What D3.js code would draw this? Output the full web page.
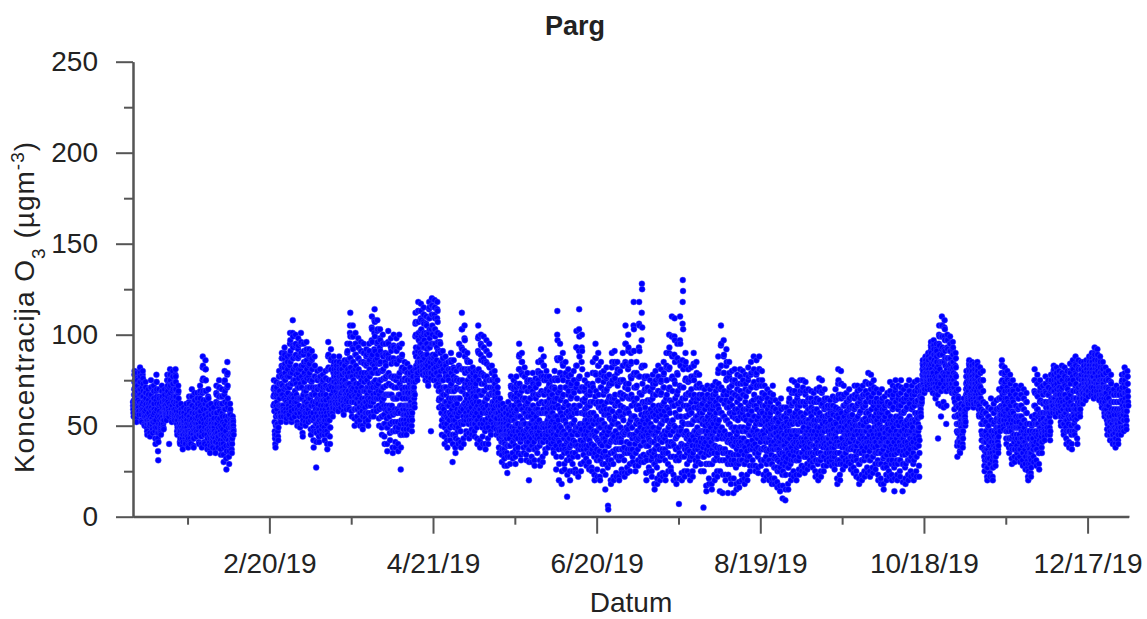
<!DOCTYPE html>
<html>
<head>
<meta charset="utf-8">
<script src="https://cdn.jsdelivr.net/npm/d3@7"></script>
<style>
  html, body { margin: 0; padding: 0; background: #ffffff; }
  svg { display: block; }
  text { font-family: "Liberation Sans", Arial, sans-serif; fill: #222; }
</style>
</head>
<body>
<svg id="chart" width="1147" height="619"></svg>
<script>
// ---- data (hourly O3 at Parg, 2019; values in µg/m3) ----
const chartTitle = "Parg";
const xTitle = "Datum";
const sampleHours = [0,2,4,6,8,10,12,14,16,18,20,22];
const extraHours = [1,9,11,13,17,19];
const majorTickDates = ["2019-02-20","2019-04-21","2019-06-20","2019-08-19","2019-10-18","2019-12-17"];
const minorTickDates = ["2019-01-21","2019-03-22","2019-05-21","2019-07-20","2019-09-18","2019-11-17"];
const yMajorTicks = [0,50,100,150,200,250];
const yMinorTicks = [25,75,125,175,225];

// values at sampleHours, one row per day
const jan = [
[63,59,57,55,61,67,74,80,78,71,66,64],[62,59,54,52,57,65,71,79,75,69,64,61],[60,57,58,56,63,70,78,82,79,74,67,62],
[61,56,53,52,59,66,75,80,76,69,63,59],[57,55,51,50,55,61,68,74,71,65,59,55],[53,49,47,45,51,56,63,70,67,62,57,54],
[52,50,46,44,51,59,66,75,71,63,58,54],[54,50,48,46,52,59,65,72,69,62,57,53],[51,47,43,40,49,58,69,78,74,66,59,55],
[49,43,36,31,41,51,61,70,65,58,53,49],[50,47,46,45,51,57,65,72,69,63,57,53],[55,51,49,48,53,60,65,70,67,61,57,55],
[57,55,54,53,59,64,71,78,75,69,63,59],[60,56,55,40,57,67,74,81,78,72,65,61],[59,56,53,52,57,65,73,80,77,70,63,59],
[57,55,54,53,59,66,74,81,77,70,63,58],[55,51,47,45,49,56,63,72,69,61,55,51],[49,46,41,40,43,50,55,62,59,54,51,49],
[47,43,39,37,41,48,53,60,57,52,49,47],[46,43,41,40,45,49,55,62,59,53,49,47],[45,42,39,38,43,51,59,66,62,55,50,47],
[46,43,41,40,46,53,61,70,66,57,51,49],[47,43,39,38,43,52,59,68,64,57,51,49],[49,46,45,44,47,54,61,68,65,59,55,51],
[49,45,41,40,45,53,63,72,69,61,55,52],[49,44,40,38,47,60,75,88,83,69,59,53],[51,45,41,40,49,62,75,86,81,69,59,54],
[51,45,39,37,43,52,61,70,65,57,53,49],[47,41,37,35,39,46,53,62,59,53,49,47],[45,42,39,38,41,47,53,60,57,51,47,45],
[45,41,37,35,41,51,63,72,67,57,51,47]
];
const feb = [
[46,43,40,38,44,53,66,75,71,62,54,50],[47,42,37,34,40,49,62,70,66,57,52,48],[45,40,34,30,38,51,67,80,75,63,55,50],
[47,39,32,26,36,53,71,85,79,65,55,49],[45,39,33,29,36,45,54,62,59,53,49,46],[44,41,37,35,40,46,51,55,53,50,47,45],
null,null,null,null,null,null,null,null,null,null,null,null,null,null,
[null,null,null,null,null,null,61,70,75,67,58,52],[47,43,40,38,45,55,66,74,71,63,56,51],[51,47,44,42,49,61,73,80,77,69,61,56],
[57,53,52,55,61,73,83,90,87,77,67,61],[61,57,55,58,65,76,87,93,89,79,71,64],[59,55,52,54,63,71,82,88,85,77,68,62],
[61,57,55,56,65,77,89,101,97,85,73,66],[63,58,52,54,67,79,94,108,99,87,75,67]
];
const mar = [
[65,59,56,55,63,75,88,100,95,83,73,67],[63,57,52,50,59,71,87,98,94,81,71,65],[61,55,50,49,57,73,89,101,96,83,71,65],
[59,51,46,44,53,67,83,95,91,79,69,63],[61,55,52,50,57,69,85,96,92,81,71,66],[62,57,54,52,59,71,83,92,89,79,71,65],
[61,53,48,45,55,67,81,91,87,75,67,63],[57,49,42,38,47,61,77,88,83,71,63,59],[55,47,27,41,46,57,71,80,75,65,59,55],
[55,49,44,41,47,59,71,81,77,67,61,57],[57,51,48,45,50,59,69,78,75,67,61,57],[55,49,45,42,47,59,71,80,76,67,61,57],
[55,47,40,37,45,61,81,96,89,75,65,59],[57,49,44,40,49,63,81,92,87,75,67,61],[63,59,57,55,60,69,79,88,85,77,71,65],
[65,61,60,59,62,69,77,85,83,75,71,67],[65,61,59,58,62,71,79,88,85,77,71,67],[67,63,62,60,64,71,77,84,81,75,71,69],
[65,61,58,56,61,69,79,86,83,75,69,67],[67,63,60,59,64,73,85,95,91,81,73,69],[69,63,60,59,67,79,95,105,112,87,77,71],
[69,63,58,55,63,77,93,105,99,85,75,71],[67,59,54,50,59,73,89,101,95,83,73,69],[65,59,55,52,59,71,87,98,93,81,73,67],
[63,57,53,50,57,69,85,96,91,79,71,65],[61,55,50,48,55,69,85,95,90,79,69,65],[63,57,54,52,57,69,83,92,89,79,71,67],
[65,57,53,50,57,71,85,95,91,81,73,69],[69,61,57,55,63,79,97,110,103,89,79,73],[71,63,58,55,65,83,101,114,107,91,81,75],
[71,65,60,58,65,79,95,108,103,89,79,73]
];
const apr = [
[69,61,54,50,59,75,93,103,97,85,75,69],[65,55,49,45,55,71,89,100,95,81,71,65],[61,51,44,40,51,67,85,95,89,77,67,61],
[59,49,40,36,49,67,89,102,95,79,67,61],[59,51,46,42,51,67,87,98,91,77,67,61],[57,47,38,35,47,65,87,100,93,77,65,59],
[57,47,41,38,49,65,85,98,91,77,65,59],[57,47,40,36,49,67,87,100,93,79,67,61],[57,45,26,38,45,61,81,95,89,75,65,59],
[59,53,48,45,51,61,75,85,81,71,65,61],[59,53,48,45,51,61,75,84,79,71,65,61],[61,55,50,48,53,61,73,82,79,71,65,63],
[61,55,50,47,53,61,71,80,77,71,67,65],[71,65,62,60,67,81,99,112,107,93,83,77],[83,79,77,75,79,91,107,118,113,101,93,87],
[87,83,82,80,85,95,109,117,113,103,95,89],[85,81,80,78,83,93,107,115,111,101,93,87],[83,79,77,75,79,89,101,110,105,95,89,85],
[83,77,74,72,79,93,109,118,115,103,93,87],[85,79,76,47,79,95,111,120,116,105,95,89],[87,81,78,75,81,95,111,119,115,103,95,89],
[85,79,75,72,79,93,109,118,113,101,91,83],[77,69,64,60,65,77,91,100,95,85,75,69],[65,57,50,45,53,67,83,91,87,75,67,61],
[59,51,44,40,49,63,79,88,83,71,63,57],[55,47,42,38,47,61,77,85,81,69,61,57],[57,49,45,42,49,63,81,90,85,73,65,59],
[55,45,30,40,45,61,77,86,81,69,61,57],[53,45,38,35,43,57,71,80,75,65,59,55],[55,47,42,40,49,65,83,95,89,75,65,59]
];
const may = [
[58,47,41,38,51,69,93,112,103,81,69,61],[59,51,43,40,53,71,91,105,97,79,67,63],[61,53,47,45,55,65,81,90,85,75,67,62],
[59,51,46,43,53,63,77,85,81,73,65,61],[60,53,48,45,51,63,73,82,79,71,66,62],[58,51,47,44,51,59,71,80,77,69,63,60],
[57,49,43,40,53,69,91,105,99,81,69,63],[59,51,42,38,51,67,89,100,94,79,67,61],[57,49,44,40,51,69,87,99,93,77,69,63],
[59,47,40,37,49,65,85,97,91,77,65,61],[57,51,43,40,49,67,83,95,89,75,67,59],[59,52,47,45,53,61,75,83,79,71,63,60],
[61,55,51,49,55,63,71,80,77,69,65,61],[57,52,48,45,51,57,67,75,71,65,61,57],[51,45,38,35,43,51,59,65,61,55,51,49],
[47,41,34,30,37,45,55,62,59,53,49,45],[45,37,32,28,35,45,53,60,57,51,47,45],[43,35,28,24,33,45,55,63,59,53,47,45],
[47,39,33,29,39,53,67,77,71,61,55,49],[49,41,35,32,41,53,65,75,71,61,53,49],[47,39,33,29,37,51,65,77,73,63,55,51],
[51,43,38,35,47,63,81,95,89,73,61,55],[49,41,34,31,43,59,79,90,85,71,59,53],[51,43,38,35,45,57,71,82,77,65,57,51],
[47,39,34,31,41,55,69,79,75,63,55,49],[45,37,20,30,37,51,65,75,71,59,51,47],[47,39,33,30,39,53,69,79,73,61,53,49],
[45,37,31,28,37,51,67,76,71,59,51,47],[49,43,38,35,45,59,75,85,79,67,57,53],[47,39,31,28,41,57,79,92,85,69,57,51],
[49,41,33,30,41,59,77,88,83,67,57,51]
];
const jun = [
[49,43,37,35,45,57,69,80,77,63,57,51],[53,45,41,38,47,55,67,77,73,65,59,55],[51,47,43,40,47,57,67,75,71,63,57,53],
[48,41,37,35,43,55,71,80,75,65,55,51],[49,39,26,33,45,65,87,113,97,75,61,53],[47,37,20,29,41,59,79,95,87,71,57,49],
[45,33,18,25,37,55,77,90,83,67,53,47],[43,35,29,26,37,53,71,85,79,63,51,45],[41,31,11,23,35,49,67,81,77,61,49,43],
[43,33,25,20,31,47,65,78,73,59,51,45],[45,35,29,25,33,51,69,80,75,61,53,47],[47,35,26,24,39,59,83,102,93,73,57,49],
[45,33,24,22,37,61,91,114,99,77,61,51],[47,37,29,25,39,57,85,100,91,71,57,51],[45,37,34,30,39,51,63,75,71,59,53,49],
[47,39,32,28,37,53,67,78,73,61,51,47],[43,35,30,26,35,49,61,72,69,57,49,45],[45,35,27,25,37,53,73,85,79,63,51,47],
[45,33,23,20,35,53,79,95,87,69,55,47],[43,31,26,22,33,51,75,90,83,67,53,49],[41,31,22,20,31,49,71,85,79,63,53,45],
[45,33,29,25,35,51,67,80,77,61,51,47],[43,29,15,23,33,49,69,82,77,63,49,45],[39,27,6,4,31,47,65,78,73,59,49,41],
[41,29,20,18,31,53,73,90,85,65,51,45],[43,29,22,20,35,53,77,91,85,67,55,47],[41,33,24,22,33,51,73,85,81,63,51,45],
[43,31,22,20,33,49,67,80,75,61,49,43],[41,33,26,24,37,55,75,90,83,67,53,47],[45,31,24,22,35,57,85,105,95,73,59,49]
];
const jul = [
[47,35,27,24,37,59,81,100,93,73,57,51],[45,35,29,25,37,53,77,90,85,67,55,49],[49,37,33,30,45,65,91,118,103,79,63,55],
[45,35,28,25,35,51,71,85,79,65,53,47],[47,37,31,28,43,61,93,118,105,77,59,51],[49,39,33,30,45,67,97,128,125,83,63,53],
[47,41,34,30,41,55,69,83,77,63,57,51],[45,33,24,20,31,47,63,77,71,57,49,45],[43,35,27,25,35,49,63,75,69,59,51,47],
[41,31,25,22,33,49,65,78,73,61,49,45],[41,29,18,15,29,45,67,80,75,59,47,43],[39,27,21,18,31,47,69,83,77,61,49,43],
[43,31,23,20,33,51,67,81,75,61,51,45],[41,33,24,22,35,53,71,85,79,63,53,47],[43,31,23,20,35,55,75,90,83,67,53,47],
[47,35,29,25,39,59,81,100,93,71,57,51],[45,33,27,25,41,63,89,110,99,77,61,53],[47,33,23,20,39,61,89,109,97,73,57,49],
[43,31,21,18,33,55,79,95,87,69,55,47],[45,31,7,21,35,59,85,110,95,71,55,49],[47,33,24,20,39,65,106,130,124,81,61,51],
[45,33,25,22,37,55,75,90,85,67,55,47],[43,35,29,25,37,51,67,81,75,61,51,45],[41,31,23,20,33,51,67,82,77,63,51,45],
[45,33,25,22,35,53,77,90,83,67,53,47],[47,37,31,28,39,55,71,85,79,65,55,49],[45,37,33,30,39,53,65,78,73,61,53,47],
[43,35,29,25,35,47,61,71,67,57,51,47],[43,33,5,25,33,47,59,70,65,53,47,43],[41,29,17,14,29,45,61,72,67,55,47,43],
[39,29,21,18,29,43,57,70,65,53,45,41]
];
const aug = [
[41,29,18,15,29,45,59,72,67,55,47,43],[39,31,23,20,31,47,61,74,69,57,49,43],[43,33,25,22,35,51,71,88,81,65,53,47],
[45,31,14,25,37,57,83,105,95,71,57,49],[43,31,13,23,35,55,79,97,89,69,55,47],[43,31,23,20,35,53,75,92,85,67,53,45],
[41,29,13,23,33,51,69,85,79,63,51,45],[41,29,21,18,31,49,65,80,75,61,49,43],[39,29,13,21,31,47,67,81,75,59,49,43],
[41,27,18,15,29,45,63,78,73,59,47,41],[39,29,19,16,31,49,65,81,77,61,49,43],[41,31,23,20,31,47,67,80,75,59,49,43],
[39,29,21,18,29,47,63,78,73,59,47,41],[41,31,23,20,33,49,69,82,77,61,51,45],[45,33,28,25,37,53,71,85,79,63,53,47],
[47,37,31,28,39,55,73,88,81,67,55,49],[45,35,28,25,37,51,71,86,79,65,53,47],[43,33,27,24,35,55,75,88,81,63,51,45],
[45,37,31,28,37,51,65,80,75,61,53,47],[43,31,23,20,31,45,61,72,67,55,49,43],[41,33,25,22,29,43,57,70,65,53,47,43],
[41,31,23,20,31,43,55,68,63,51,45,41],[39,29,21,18,29,45,59,72,67,53,45,41],[37,27,21,18,27,39,53,64,59,49,43,39],
[37,27,19,16,25,37,51,62,57,47,41,37],[35,25,17,14,27,41,55,65,59,49,43,39],[35,23,10,17,25,39,51,60,55,45,39,35],
[33,23,9,15,23,37,49,60,57,47,41,37],[37,27,18,15,27,43,57,70,65,51,43,39],[39,29,23,20,31,45,61,75,69,55,47,41],
[41,31,25,22,33,47,63,74,69,57,47,43]
];
const sep = [
[41,31,23,20,31,45,59,72,67,55,47,41],[39,31,26,23,33,47,61,75,69,57,47,43],[43,35,28,25,35,47,63,75,71,55,49,43],
[41,33,27,24,33,45,61,74,69,57,47,45],[43,33,29,26,35,47,59,70,65,53,49,45],[41,35,31,28,35,45,57,69,65,55,47,43],
[43,35,30,27,33,45,59,68,63,53,47,43],[39,31,25,22,31,43,57,70,65,53,45,41],[41,29,23,20,31,47,63,76,71,57,49,43],
[39,31,25,22,33,45,61,75,69,55,47,41],[43,33,28,25,33,47,59,70,65,55,49,43],[41,35,31,28,35,43,55,65,61,51,47,43],
[43,37,32,30,35,45,55,64,61,53,47,45],[41,35,31,28,33,43,57,66,61,51,45,43],[43,33,29,26,35,45,59,70,65,55,47,43],
[41,29,21,18,31,47,65,81,75,59,49,41],[39,31,23,20,29,49,67,80,73,57,47,43],[43,33,29,26,33,47,61,72,67,55,49,45],
[41,35,31,28,35,45,57,68,63,53,47,43],[45,37,32,30,37,47,59,70,65,55,49,45],[41,33,29,26,33,43,55,66,61,51,45,43],
[43,31,27,24,33,45,59,72,67,53,47,41],[39,33,25,22,31,47,61,72,69,55,45,41],[41,29,21,18,29,43,57,70,65,51,43,39],
[39,31,23,20,31,45,61,72,67,53,47,43],[41,31,25,22,33,47,61,74,69,57,47,41],[43,33,27,24,33,49,67,79,73,57,49,45],
[41,31,25,22,31,47,63,78,73,59,47,41],[43,33,27,24,33,45,61,75,71,55,49,43],[41,35,29,26,35,47,57,70,65,53,47,45]
];
const oct = [
[39,31,23,20,29,43,55,68,63,51,45,41],[41,29,21,18,29,41,57,70,65,53,43,39],[37,27,18,15,27,39,53,66,61,49,43,39],
[39,29,23,20,27,41,57,68,63,51,45,41],[41,31,25,22,31,45,61,74,69,55,47,43],[39,29,23,20,31,43,59,72,67,53,45,41],
[41,27,14,21,29,45,63,75,71,55,47,43],[39,31,23,20,29,45,59,72,67,55,45,41],[41,31,25,22,31,47,61,75,71,57,47,43],
[39,29,14,19,29,43,57,70,65,51,45,39],[41,27,21,18,29,45,59,72,67,53,47,41],[39,31,23,20,31,45,63,75,69,55,47,43],
[43,31,25,22,33,47,59,72,67,53,49,43],[41,29,23,20,31,45,61,74,69,57,47,45],[43,33,25,22,33,47,63,75,71,57,51,47],
[49,39,28,22,35,49,61,72,69,61,57,55],[64,62,63,65,69,75,81,86,83,77,73,71],[71,69,68,70,75,79,85,88,86,81,77,75],
[75,73,70,72,77,81,87,90,88,83,79,77],[77,73,71,70,75,83,91,96,93,87,81,79],[79,75,70,68,73,85,93,97,94,89,83,77],
[75,71,67,65,71,81,89,95,91,85,79,75],[73,67,43,62,71,83,95,105,99,89,81,77],[77,69,61,55,69,85,99,110,105,93,85,79],
[79,71,63,60,71,85,99,108,103,91,83,79],[77,69,51,61,69,81,93,100,97,87,79,75],[77,73,71,70,75,83,91,99,95,87,81,77],
[75,71,69,68,73,81,89,96,93,85,79,75],[71,65,59,55,63,73,83,90,87,77,69,61],[55,47,39,33,41,51,61,70,65,55,47,41],
[43,39,36,35,41,47,53,62,59,53,49,47]
];
const nov = [
[47,43,40,38,43,51,57,65,61,55,53,51],[57,53,50,52,59,67,73,80,77,71,65,63],[65,63,60,62,69,75,81,86,83,77,71,67],
[67,65,62,64,71,77,81,85,83,77,73,69],[65,61,60,62,67,73,79,84,81,75,71,67],[67,63,62,63,69,75,81,85,83,77,71,67],
[65,59,56,55,61,69,75,82,79,71,65,59],[55,47,42,38,45,57,69,80,75,63,53,45],[41,33,28,25,31,41,51,62,57,47,41,37],
[35,27,22,20,27,37,49,60,55,45,39,35],[35,29,24,22,29,41,53,65,59,47,41,37],[35,27,22,20,27,39,51,62,57,47,41,37],
[39,33,30,28,33,43,53,64,59,49,43,41],[43,39,37,35,39,49,59,70,65,55,49,47],[57,55,53,56,61,69,79,86,83,75,67,61],
[59,53,50,48,53,63,73,82,79,69,61,57],[55,47,43,40,47,59,71,80,75,63,55,51],[51,43,38,35,43,55,69,78,73,61,53,49],
[47,39,32,29,37,51,65,75,69,57,49,45],[45,37,33,30,37,49,61,72,67,55,49,45],[45,39,35,32,37,49,59,70,65,55,49,45],
[45,37,33,30,37,49,61,72,67,55,47,43],[43,35,31,28,35,47,59,70,65,53,45,41],[41,33,29,26,33,45,57,68,63,51,43,39],
[35,27,22,20,25,33,43,51,47,39,35,33],[35,29,24,22,27,35,45,55,51,43,39,37],[43,37,33,30,39,53,69,81,75,61,51,47],
[45,37,31,28,37,51,67,78,73,59,51,47],[45,35,29,26,35,49,63,75,71,57,49,45],[47,41,38,35,41,51,63,72,67,57,51,47]
];
const dec = [
[51,45,44,42,47,57,69,77,73,63,57,53],[53,49,47,45,49,57,67,75,71,63,57,55],[55,49,45,42,47,57,69,78,75,65,61,59],
[63,59,58,57,61,69,77,83,81,75,69,65],[65,59,57,55,59,67,75,82,79,73,67,63],[63,59,58,57,61,67,75,80,77,71,67,63],
[61,55,52,50,55,65,75,83,79,71,63,59],[59,51,47,45,51,61,73,82,77,67,61,57],[57,49,43,40,47,59,71,80,75,65,59,55],
[55,47,41,38,47,61,75,84,79,67,59,55],[55,45,40,37,47,61,77,86,81,69,61,57],[59,51,47,45,53,65,79,88,83,73,65,61],
[59,49,43,40,49,63,77,86,81,71,65,61],[65,59,57,55,59,67,77,85,81,75,69,67],[69,65,63,62,65,71,79,85,83,77,73,71],
[71,67,65,64,67,73,81,86,83,79,75,73],[73,69,67,66,69,75,83,88,85,81,77,75],[75,71,68,67,71,77,85,90,87,83,79,77],
[77,71,67,65,69,79,87,93,89,83,79,75],[75,71,68,66,69,77,85,92,89,83,77,73],[73,69,66,64,67,75,83,88,85,79,75,71],
[69,65,62,60,63,71,79,85,81,75,71,67],[65,59,57,55,59,67,75,82,79,71,65,61],[59,53,48,45,51,61,71,80,75,65,57,53],
[55,49,45,42,47,57,69,78,73,63,55,51],[51,45,42,40,45,53,63,70,67,59,53,49],[49,43,40,38,43,53,63,72,67,59,53,49],
[51,45,42,40,45,53,63,70,67,59,53,51],[55,49,47,45,49,59,69,78,75,67,61,57],[59,53,49,47,53,63,73,82,79,71,65,61],
[61,55,50,48,53,63,73,80,77,69,63,61]
];

// values at extraHours, one row per day
const janX = [
[61,64,70,78,75,68],[60,61,68,76,72,66],[58,67,74,80,77,70],[58,62,71,78,73,66],[56,58,64,71,68,62],[51,53,60,67,64,60],
[51,55,62,71,67,60],[52,56,62,69,65,59],[49,53,64,74,70,62],[46,46,56,66,62,55],[48,54,61,69,66,60],[53,57,63,68,64,59],
[56,62,68,75,72,66],[58,62,71,78,75,68],[57,61,69,77,73,66],[56,62,70,78,74,66],[53,53,60,68,65,58],[47,47,53,59,57,52],
[45,45,51,57,55,50],[44,47,52,59,56,51],[44,47,55,63,58,53],[45,50,57,66,61,54],[45,48,56,64,60,54],[48,51,58,65,62,57],
[47,49,58,68,65,58],[46,54,68,82,76,64],[48,56,69,81,75,64],[48,48,57,66,61,55],[44,43,50,58,56,51],[43,44,50,57,54,49],
[43,46,57,68,62,54]
];
const febX = [
[44,49,60,71,66,58],[45,45,56,66,62,55],[42,44,59,74,69,59],[43,44,62,78,72,60],[42,40,50,58,56,51],[42,43,49,53,52,48],
null,null,null,null,null,null,null,null,null,null,null,null,null,null,
[null,null,null,66,71,62],[45,50,61,70,67,59],[49,55,67,77,73,65],[55,67,78,87,82,72],[59,70,82,90,84,75],[57,67,77,85,81,72],
[59,71,83,95,91,79],[60,73,87,101,93,81]
];
const marX = [
[62,69,82,94,89,78],[60,65,79,92,88,76],[58,65,81,95,90,77],[55,60,75,89,85,74],[58,63,77,91,86,76],[60,65,77,88,84,75],
[57,61,74,86,81,71],[53,54,69,83,77,67],[51,51,64,76,70,62],[52,53,65,76,72,64],[54,55,64,74,71,64],[52,53,65,76,72,64],
[51,53,71,88,82,70],[53,56,72,86,81,71],[61,65,74,83,81,74],[63,66,73,81,79,73],[63,66,75,83,81,74],[65,68,74,81,78,73],
[63,65,74,83,79,72],[65,68,79,90,86,77],[66,73,87,101,99,82],[66,70,85,99,92,80],[63,66,81,95,89,78],[62,65,79,93,87,77],
[60,63,77,91,85,75],[58,62,77,90,84,74],[60,63,76,88,84,75],[61,64,78,90,86,77],[65,71,88,104,96,84],[67,74,92,108,99,86],
[68,72,87,102,96,84]
];
const aprX = [
[65,67,84,98,91,80],[60,63,80,95,88,76],[56,59,76,90,83,72],[54,58,78,96,87,73],[55,59,77,93,84,72],[52,56,76,94,85,71],
[52,57,75,92,84,71],[52,58,77,94,86,73],[51,53,71,88,82,70],[56,56,68,80,76,68],[56,56,68,79,75,68],[58,57,67,78,75,68],
[58,57,66,76,74,69],[68,74,90,106,100,88],[81,85,99,113,107,97],[85,90,102,113,108,99],[83,88,100,111,106,97],[81,84,95,106,100,92],
[80,86,101,114,109,98],[82,87,103,116,111,100],[84,88,103,115,109,99],[82,86,101,114,107,96],[73,71,84,96,90,80],[61,60,75,87,81,71],
[55,56,71,84,77,67],[51,54,69,81,75,65],[53,56,72,86,79,69],[50,53,69,82,75,65],[49,50,64,76,70,62],[51,57,74,89,82,70]
];
const mayX = [
[52,60,81,103,92,75],[55,62,81,98,88,73],[57,60,73,86,80,71],[55,58,70,81,77,69],[56,57,68,78,75,68],[54,55,65,76,73,66],
[53,61,80,98,90,75],[55,59,78,95,86,73],[53,60,78,93,85,73],[53,57,75,91,84,71],[54,58,75,89,82,71],[55,57,68,79,75,67],
[58,59,67,76,73,67],[54,54,62,71,68,63],[48,47,55,62,58,53],[44,41,50,59,56,51],[41,40,49,57,54,49],[39,39,50,59,56,50],
[43,46,60,72,66,58],[45,47,59,70,66,57],[43,44,58,71,68,59],[47,55,72,88,81,67],[45,51,69,85,78,65],[47,51,64,77,71,61],
[43,48,62,74,69,59],[41,44,58,70,65,55],[43,46,61,74,67,57],[41,44,59,72,65,55],[46,52,67,80,73,62],[43,49,68,86,77,63],
[45,50,68,83,75,62]
];
const junX = [
[46,51,63,75,70,60],[49,51,61,72,69,62],[49,52,62,71,67,60],[45,49,63,76,70,60],[44,55,76,100,86,68],[42,50,69,87,79,64],
[39,46,66,84,75,60],[39,45,62,78,71,57],[36,42,58,74,69,55],[38,39,56,72,66,55],[40,42,60,75,68,57],[41,49,71,93,83,65],
[39,49,76,103,88,69],[42,48,71,93,81,64],[41,45,57,69,65,56],[43,45,60,73,67,56],[39,42,55,67,63,53],[40,45,63,79,71,57],
[39,44,66,87,78,62],[37,42,63,83,75,60],[36,40,60,78,71,58],[39,43,59,74,69,56],[36,41,59,76,70,56],[33,39,56,72,66,54],
[35,42,63,82,75,58],[36,44,65,84,76,61],[37,42,62,79,72,57],[37,41,58,74,68,55],[37,46,65,83,75,60],[38,46,71,95,84,66]
];
const julX = [
[41,48,70,91,83,65],[40,45,65,84,76,61],[43,55,78,105,91,71],[40,43,61,78,72,59],[42,52,77,106,91,68],[44,56,82,112,104,73],
[44,48,62,76,70,60],[39,39,55,70,64,53],[39,42,56,69,64,55],[36,41,57,71,67,55],[35,37,56,73,67,53],[33,39,58,76,69,55],
[37,42,59,74,68,56],[37,44,62,78,71,58],[37,45,65,82,75,60],[41,49,70,90,82,64],[39,52,76,99,88,69],[40,50,75,99,85,65],
[37,44,67,87,78,62],[38,47,72,97,83,63],[40,52,86,118,103,71],[39,46,65,83,76,61],[39,44,59,74,68,56],[36,42,59,75,70,57],
[39,44,65,84,75,60],[42,47,63,78,72,60],[41,46,59,71,67,57],[39,41,54,66,62,54],[38,40,53,64,59,50],[35,37,53,66,61,51],
[34,36,50,63,59,49]
];
const augX = [
[35,37,52,65,61,51],[35,39,54,67,63,53],[38,43,61,79,73,59],[38,47,70,94,83,64],[37,45,67,88,79,62],[37,44,64,83,76,60],
[35,42,60,77,71,57],[35,40,57,72,68,55],[34,39,57,74,67,54],[34,37,54,70,66,53],[34,40,57,73,69,55],[36,39,57,73,67,54],
[34,38,55,70,66,53],[36,41,59,75,69,56],[39,45,62,78,71,58],[42,47,64,80,74,61],[40,44,61,78,72,59],[38,45,65,81,72,57],
[41,44,58,72,68,57],[37,38,53,66,61,52],[37,36,50,63,59,50],[36,37,49,61,57,48],[34,37,52,65,60,49],[32,33,46,58,54,46],
[32,31,44,56,52,44],[30,34,48,60,54,46],[29,32,45,55,50,42],[28,30,43,54,52,44],[32,35,50,63,58,47],[34,38,53,68,62,51],
[36,40,55,68,63,52]
];
const sepX = [
[36,38,52,65,61,51],[35,40,54,68,63,52],[39,41,55,69,63,52],[37,39,53,67,63,52],[38,41,53,64,59,51],[38,40,51,63,60,51],
[39,39,52,63,58,50],[35,37,50,63,59,49],[35,39,55,69,64,53],[35,39,53,68,62,51],[38,40,53,64,60,52],[38,39,49,60,56,49],
[40,40,50,59,57,50],[38,38,50,61,56,48],[38,40,52,64,60,51],[35,39,56,73,67,54],[35,39,58,73,65,52],[38,40,54,66,61,52],
[38,40,51,62,58,50],[41,42,53,64,60,52],[37,38,49,60,56,48],[37,39,52,65,60,50],[36,39,54,66,62,50],[35,36,50,63,58,47],
[35,38,53,66,60,50],[36,40,54,67,63,52],[38,41,58,73,65,53],[36,39,55,70,66,53],[38,39,53,68,63,52],[38,41,52,63,59,50]
];
const octX = [
[35,36,49,61,57,48],[35,35,49,63,59,48],[32,33,46,59,55,46],[34,34,49,62,57,48],[36,38,53,67,62,51],[34,37,51,65,60,49],
[34,37,54,69,63,51],[35,37,52,65,61,50],[36,39,54,68,64,52],[34,36,50,63,58,48],[34,37,52,65,60,50],[35,38,54,69,62,51],
[37,40,53,65,60,51],[35,38,53,67,63,52],[38,40,55,69,64,54],[44,42,55,66,65,59],[63,72,78,84,80,75],[70,77,82,87,84,79],
[74,79,84,89,86,81],[75,79,87,94,90,84],[77,79,89,95,92,86],[73,76,85,92,88,82],[70,77,89,100,94,85],[73,77,92,105,99,89],
[75,78,92,104,97,87],[73,75,87,97,92,83],[75,79,87,95,91,84],[73,77,85,92,89,82],[68,68,78,87,82,73],[51,46,56,66,60,51],
[41,44,50,58,56,51]
];
const novX = [
[45,47,54,61,58,54],[55,63,70,77,74,68],[64,72,78,84,80,74],[66,74,79,83,80,75],[63,70,76,82,78,73],[65,72,78,83,80,74],
[62,65,72,79,75,68],[51,51,63,75,69,58],[37,36,46,57,52,44],[31,32,43,55,50,42],[32,35,47,59,53,44],[31,33,45,57,52,44],
[36,38,48,59,54,46],[41,44,54,65,60,52],[56,65,74,83,79,71],[56,58,68,78,74,65],[51,53,65,76,69,59],[47,49,62,74,67,57],
[43,44,58,70,63,53],[41,43,55,67,61,52],[42,43,54,65,60,52],[41,43,55,67,61,51],[39,41,53,65,59,49],[37,39,51,63,57,47],
[31,29,38,47,43,37],[32,31,40,50,47,41],[40,46,61,75,68,56],[41,44,59,73,66,55],[40,42,56,69,64,53],[44,46,57,68,62,54]
];
const decX = [
[48,52,63,73,68,60],[51,53,62,71,67,60],[52,52,63,74,70,63],[61,65,73,80,78,72],[62,63,71,79,76,70],[61,64,71,78,74,69],
[58,60,70,79,75,67],[55,56,67,78,72,64],[53,53,65,76,70,62],[51,54,68,80,73,63],[50,54,69,82,75,65],[55,59,72,84,78,69],
[54,56,70,82,76,68],[62,63,72,81,78,72],[67,68,75,82,80,75],[69,70,77,84,81,77],[71,72,79,86,83,79],[73,74,81,88,85,81],
[74,74,83,90,86,81],[73,73,81,89,86,80],[71,71,79,86,82,77],[67,67,75,82,78,73],[62,63,71,79,75,68],[56,56,66,76,70,61],
[52,52,63,74,68,59],[48,49,58,67,63,56],[46,48,58,68,63,56],[48,49,58,67,63,56],[52,54,64,74,71,64],[56,58,68,78,75,68],
[58,58,68,77,73,66]
];

const months = [jan, feb, mar, apr, may, jun, jul, aug, sep, oct, nov, dec];
const monthsX = [janX, febX, marX, aprX, mayX, junX, julX, augX, sepX, octX, novX, decX];

// ---- build point list ----
const points = [];
function addRows(list, hours) {
  list.forEach((m, mi) => {
    m.forEach((day, di) => {
      if (!day) return;
      day.forEach((v, hi) => {
        if (v == null) return;
        points.push({ t: new Date(Date.UTC(2019, mi, di + 1, hours[hi])), v: v });
      });
    });
  });
}
addRows(months, sampleHours);
addRows(monthsX, extraHours);
points.sort((a, b) => a.t - b.t);

// ---- layout ----
const svg = d3.select("#chart");
const W = 1147, H = 619;
svg.append("rect").attr("width", W).attr("height", H).attr("fill", "#ffffff");

const plot = { left: 133, right: 1128.5, top: 61.7, bottom: 516.7 };
const x = d3.scaleUtc()
  .domain([new Date(Date.UTC(2019, 0, 1)), new Date(Date.UTC(2020, 0, 1))])
  .range([plot.left, plot.right]);
const y = d3.scaleLinear().domain([0, 250]).range([plot.bottom, plot.top]);

const axisColor = "#555555";
const fmt = d3.utcFormat("%-m/%-d/%y");
const parse = d3.utcParse("%Y-%m-%d");

// points
svg.append("g")
  .selectAll("circle")
  .data(points)
  .join("circle")
  .attr("cx", d => x(d.t))
  .attr("cy", d => y(d.v))
  .attr("r", 3)
  .attr("fill", "#0000ff")
  .attr("stroke", "#4d4dff")
  .attr("stroke-opacity", 0.5)
  .attr("stroke-width", 0.8);

// y axis (minor then major)
const yMinor = svg.append("g").attr("transform", `translate(${plot.left},0)`)
  .call(d3.axisLeft(y).tickValues(yMinorTicks).tickSize(9).tickSizeOuter(0).tickFormat(""));
const yMajor = svg.append("g").attr("transform", `translate(${plot.left},0)`)
  .call(d3.axisLeft(y).tickValues(yMajorTicks).tickSize(17).tickSizeOuter(0).tickPadding(18));

// x axis
const xMinor = svg.append("g").attr("transform", `translate(0,${plot.bottom})`)
  .call(d3.axisBottom(x).tickValues(minorTickDates.map(parse)).tickSize(8).tickSizeOuter(0).tickFormat(""));
const xMajor = svg.append("g").attr("transform", `translate(0,${plot.bottom})`)
  .call(d3.axisBottom(x).tickValues(majorTickDates.map(parse)).tickSize(17).tickSizeOuter(0).tickPadding(19).tickFormat(fmt));

[yMinor, yMajor, xMinor, xMajor].forEach(g => {
  g.selectAll("path.domain").attr("stroke", axisColor).attr("stroke-width", 2);
  g.selectAll(".tick line").attr("stroke", axisColor).attr("stroke-width", 2);
  g.selectAll(".tick text")
    .attr("fill", "#222")
    .style("font-family", '"Liberation Sans", Arial, sans-serif')
    .style("font-size", "28px");
});
xMajor.select("path.domain").attr("d", `M${plot.left},0H${plot.right + 1}`);

// title
svg.append("text")
  .attr("x", 575).attr("y", 35)
  .attr("text-anchor", "middle")
  .style("font-size", "27px").style("font-weight", "bold")
  .text(chartTitle);

// x title
svg.append("text")
  .attr("x", 631).attr("y", 612)
  .attr("text-anchor", "middle")
  .style("font-size", "28px")
  .text(xTitle);

// y title with subscript / superscript
const yt = svg.append("text")
  .attr("transform", "translate(34,307) rotate(-90)")
  .attr("text-anchor", "middle")
  .style("font-size", "28px")
  .style("letter-spacing", "1px");
yt.append("tspan").text("Koncentracija O");
yt.append("tspan").attr("baseline-shift", "sub").style("font-size", "19px").text("3");
yt.append("tspan").text(" (µgm");
yt.append("tspan").attr("baseline-shift", "super").style("font-size", "19px").text("-3");
yt.append("tspan").text(")");
</script>
</body>
</html>
